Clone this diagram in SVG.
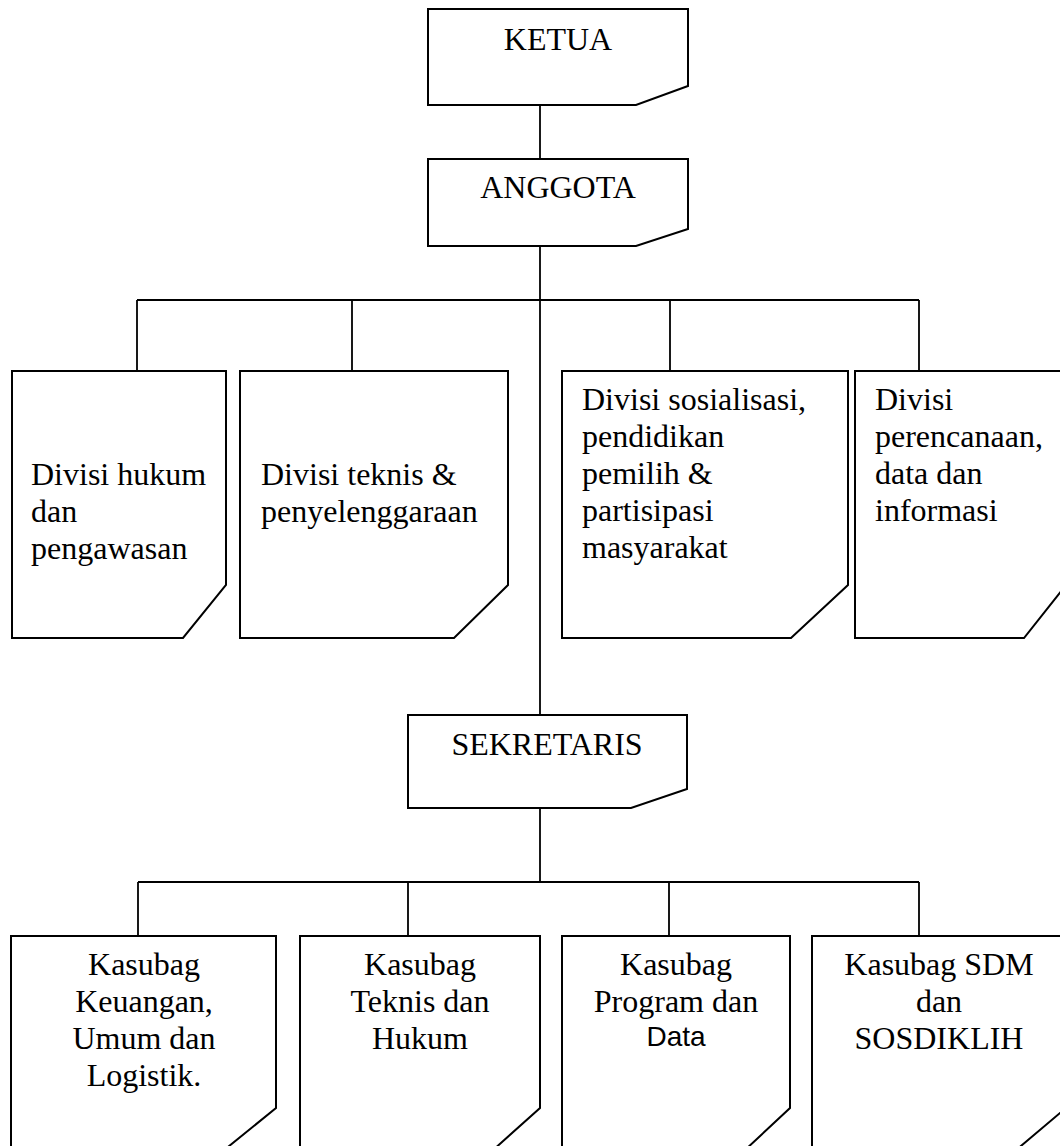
<svg xmlns="http://www.w3.org/2000/svg" width="1060" height="1146" viewBox="0 0 1060 1146">
<style>
.box{fill:#fff;stroke:#000;stroke-width:2;stroke-linejoin:miter}
.con{fill:none;stroke:#000;stroke-width:1.8}
text{font-family:"Liberation Serif","Times New Roman",serif;font-size:32px;fill:#000}
.c{text-anchor:middle}
.sans{font-family:"Liberation Sans",Arial,sans-serif;font-size:28px}
</style>
<rect width="1060" height="1146" fill="#fff"/>
<g id="connectors">
<path class="con" d="M540 105V159"/>
<path class="con" d="M540 246V715"/>
<path class="con" d="M137 300H919"/>
<path class="con" d="M137 300V371M352 300V371M670 300V371M919 300V371"/>
<path class="con" d="M540 808V882"/>
<path class="con" d="M138 882H919"/>
<path class="con" d="M138 882V936M408 882V936M669 882V936M919 882V936"/>
</g>
<g id="ketua">
<path class="box" d="M428 9H688V86L636 105H428Z"/>
<text class="c" x="558" y="50">KETUA</text>
</g>
<g id="anggota">
<path class="box" d="M428 159H688V229L636 246H428Z"/>
<text class="c" x="558" y="198">ANGGOTA</text>
</g>
<g id="divisi-hukum">
<path class="box" d="M12 371H226V585L183 638H12Z"/>
<text x="31" y="485">Divisi hukum</text>
<text x="31" y="522">dan</text>
<text x="31" y="559">pengawasan</text>
</g>
<g id="divisi-teknis">
<path class="box" d="M240 371H508V585L454 638H240Z"/>
<text x="261" y="485">Divisi teknis &amp;</text>
<text x="261" y="522">penyelenggaraan</text>
</g>
<g id="divisi-sosialisasi">
<path class="box" d="M562 371H848V585L791 638H562Z"/>
<text x="582" y="410">Divisi sosialisasi,</text>
<text x="582" y="447">pendidikan</text>
<text x="582" y="484">pemilih &amp;</text>
<text x="582" y="521">partisipasi</text>
<text x="582" y="558">masyarakat</text>
</g>
<g id="divisi-perencanaan">
<path class="box" d="M855 371H1066V585L1024 638H855Z"/>
<text x="875" y="410">Divisi</text>
<text x="875" y="447">perencanaan,</text>
<text x="875" y="484">data dan</text>
<text x="875" y="521">informasi</text>
</g>
<g id="sekretaris">
<path class="box" d="M408 715H687V789L631 808H408Z"/>
<text class="c" x="547" y="755">SEKRETARIS</text>
</g>
<g id="kasubag-keuangan">
<path class="box" d="M11 936H276V1108L223 1151H11Z"/>
<text class="c" x="144" y="975">Kasubag</text>
<text class="c" x="144" y="1012">Keuangan,</text>
<text class="c" x="144" y="1049">Umum dan</text>
<text class="c" x="144" y="1086">Logistik.</text>
</g>
<g id="kasubag-teknis">
<path class="box" d="M300 936H540V1108L492 1151H300Z"/>
<text class="c" x="420" y="975">Kasubag</text>
<text class="c" x="420" y="1012">Teknis dan</text>
<text class="c" x="420" y="1049">Hukum</text>
</g>
<g id="kasubag-program">
<path class="box" d="M562 936H790V1108L744 1151H562Z"/>
<text class="c" x="676" y="975">Kasubag</text>
<text class="c" x="676" y="1012">Program dan</text>
<text class="c sans" x="676" y="1046">Data</text>
</g>
<g id="kasubag-sdm">
<path class="box" d="M812 936H1066V1108L1015 1151H812Z"/>
<text class="c" x="939" y="975">Kasubag SDM</text>
<text class="c" x="939" y="1012">dan</text>
<text class="c" x="939" y="1049">SOSDIKLIH</text>
</g>
</svg>
